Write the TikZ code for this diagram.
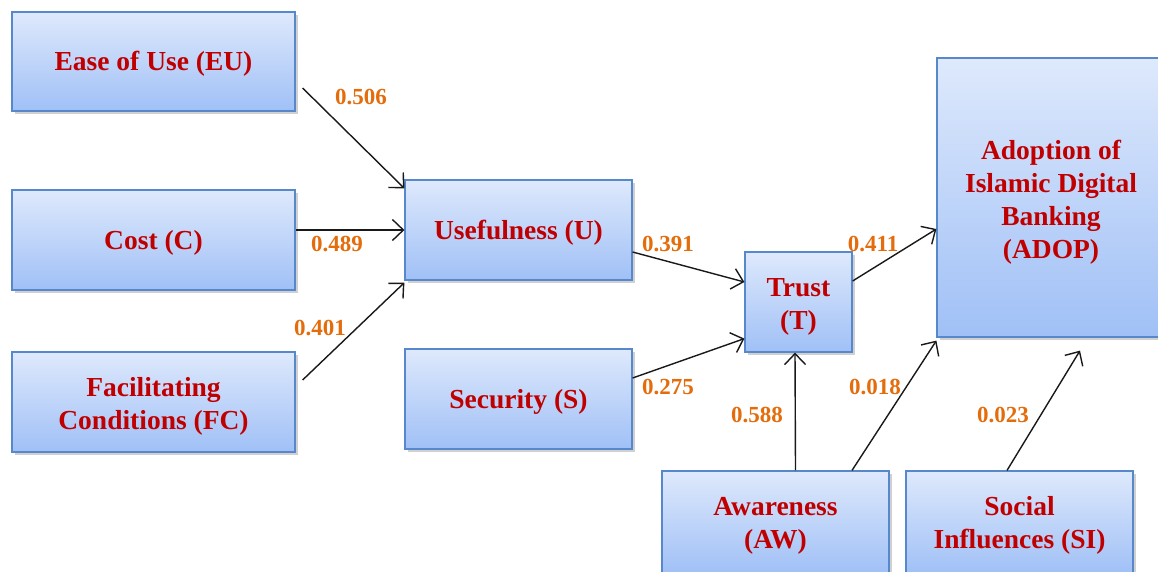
\documentclass[tikz,border=0pt]{standalone}
\usepackage{fontspec}
\setmainfont{Liberation Serif}
\usetikzlibrary{arrows.meta,shadows}
\definecolor{boxtop}{RGB}{222,233,252}
\definecolor{boxbot}{RGB}{160,192,246}
\definecolor{boxedge}{RGB}{88,136,204}
\definecolor{txtred}{RGB}{192,0,0}
\definecolor{lblorange}{RGB}{228,108,10}
\tikzset{
  box/.style={rectangle, draw=boxedge, line width=1.2pt, top color=boxtop, bottom color=boxbot,
    inner sep=0pt,
    drop shadow={opacity=0.3, shadow xshift=2.5pt, shadow yshift=-2.5pt, fill=black!60}},
  boxtext/.style={inner sep=0pt, align=center, text=txtred,
    font=\fontsize{27.5}{33}\selectfont\bfseries},
  lbl/.style={inner sep=0pt, text=lblorange, font=\fontsize{23}{26}\selectfont\bfseries},
  arr/.style={line width=1.4pt, draw=black!90, -{Straight Barb[length=11pt,width=21pt,line width=1.4pt]}}
}
\begin{document}
\begin{tikzpicture}[x=1pt,y=-1pt]
\useasboundingbox (0,0) rectangle (1158,571);
\clip (0,0) rectangle (1158,571);
\fill[white] (0,0) rectangle (1158,571);
% boxes
\node[box, minimum width=283pt, minimum height=99pt,
  label={[boxtext, yshift=-2.5pt]center:Ease of Use (EU)}] (EU) at (153.5,61.5) {};
\node[box, minimum width=283pt, minimum height=100pt,
  label={[boxtext, yshift=-3pt]center:Cost (C)}] (C) at (153.5,240) {};
\node[box, minimum width=283pt, minimum height=100pt,
  label={[boxtext, yshift=-4pt]center:Facilitating\\Conditions (FC)}] (FC) at (153.5,402) {};
\node[box, minimum width=227pt, minimum height=100pt,
  label={[boxtext, yshift=-3pt]center:Usefulness (U)}] (U) at (518.5,230) {};
\node[box, minimum width=227pt, minimum height=100pt,
  label={[boxtext, yshift=-3pt]center:Security (S)}] (S) at (518.5,399) {};
\node[box, minimum width=107pt, minimum height=100pt,
  label={[boxtext, yshift=-5pt]center:Trust\\(T)}] (T) at (798.5,302) {};
\node[box, minimum width=228pt, minimum height=279pt] (ADOP) at (1051,197.5) {};
\node[boxtext] (ADOPtxt) at (1051,202) {Adoption of\\Islamic Digital\\Banking\\(ADOP)};
\node[box, minimum width=227pt, minimum height=103pt,
  label={[boxtext, yshift=-3pt]center:Awareness\\(AW)}] (AW) at (775.5,522.5) {};
\node[box, minimum width=227pt, minimum height=103pt,
  label={[boxtext, yshift=-3pt]center:Social\\Influences (SI)}] (SI) at (1019.5,522.5) {};
% arrows
\draw[arr] ([xshift=7pt,yshift=-26.5pt]EU.east) -- ([yshift=-9pt]U.north west);
\draw[arr] ([yshift=10pt]C.east) -- (U.west);
\draw[arr] ([xshift=7pt,yshift=22pt]FC.east) -- ([yshift=-2pt]U.south west);
\draw[arr] ([yshift=-22pt]U.east) -- ([yshift=20pt]T.west);
\draw[arr] ([yshift=21pt]S.east) -- ([yshift=14pt]T.south west);
\draw[arr] ([yshift=21pt]T.east) -- ([yshift=-31.5pt]ADOP.west);
\draw[arr] ([xshift=20pt]AW.north) -- ([xshift=-3.5pt]T.south);
\draw[arr] ([xshift=76.5pt]AW.north) -- ([yshift=-3pt]ADOP.south west);
\draw[arr] ([xshift=-12.5pt]SI.north) -- ([xshift=29pt,yshift=-13pt]ADOP.south);
% labels
\node[lbl] (l1) at (361,97) {0.506};
\node[lbl] (l2) at (337,244) {0.489};
\node[lbl] (l3) at (320,328) {0.401};
\node[lbl] (l4) at (668,244) {0.391};
\node[lbl] (l5) at (668,387) {0.275};
\node[lbl] (l6) at (873,244) {0.411};
\node[lbl] (l7) at (757,415) {0.588};
\node[lbl] (l8) at (875,387) {0.018};
\node[lbl] (l9) at (1003,415) {0.023};
\end{tikzpicture}
\end{document}
